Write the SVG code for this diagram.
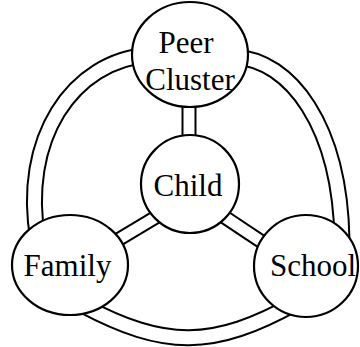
<svg xmlns="http://www.w3.org/2000/svg" xmlns:xlink="http://www.w3.org/1999/xlink" width="360" height="347" viewBox="0 0 360 347">
<style>
.bg{fill:#ffffff}
.node{fill:#ffffff;stroke:#000000;stroke-width:2.2}
.lbl{font-family:"Liberation Serif","Times New Roman",serif;font-size:31px;fill:#000000;text-anchor:middle}
.ringO{fill:none;stroke:#000000;stroke-width:17}
.ringI{fill:none;stroke:#ffffff;stroke-width:13}
.spokeO{fill:none;stroke:#000000;stroke-width:15}
.spokeI{fill:none;stroke:#ffffff;stroke-width:11}
</style>
<defs>
<path id="arcA" d="M150,55 C72,60 20,140 38,240"/>
<path id="arcB" d="M82,305 C165,349 213,349 296,303"/>
<path id="arcC" d="M235,57 C290,60 340,125 342,240"/>
<path id="spP" d="M189,100 L189,142"/>
<path id="spF" d="M165,211.6 L105,247.6"/>
<path id="spS" d="M215,210.7 L280,254"/>
</defs>
<rect class="bg" x="0" y="0" width="360" height="347"/>
<g id="connectors">
<use xlink:href="#arcA" class="ringO"/>
<use xlink:href="#arcB" class="ringO"/>
<use xlink:href="#arcC" class="ringO"/>
<use xlink:href="#arcA" class="ringI"/>
<use xlink:href="#arcB" class="ringI"/>
<use xlink:href="#arcC" class="ringI"/>
<use xlink:href="#spP" class="spokeO"/>
<use xlink:href="#spF" class="spokeO"/>
<use xlink:href="#spS" class="spokeO"/>
<use xlink:href="#spP" class="spokeI"/>
<use xlink:href="#spF" class="spokeI"/>
<use xlink:href="#spS" class="spokeI"/>
</g>
<g id="peer">
<ellipse class="node" cx="190" cy="54.5" rx="58" ry="52.5"/>
<text class="lbl" x="186" y="53">Peer</text>
<text class="lbl" x="190" y="90">Cluster</text>
</g>
<g id="child">
<circle class="node" cx="190" cy="184" r="49"/>
<text class="lbl" x="188" y="196">Child</text>
</g>
<g id="family">
<ellipse class="node" cx="70" cy="265" rx="58" ry="50"/>
<text class="lbl" x="67.5" y="276">Family</text>
</g>
<g id="school">
<ellipse class="node" cx="306" cy="266" rx="52" ry="51"/>
<text class="lbl" x="313" y="276">School</text>
</g>
</svg>
